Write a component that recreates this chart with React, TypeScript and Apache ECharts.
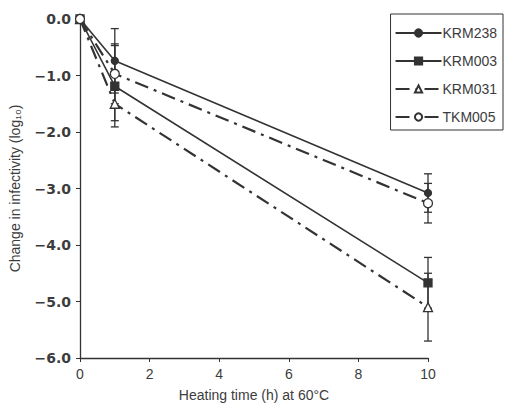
import React, { useEffect, useRef } from "react";
import * as echarts from "echarts";

const hours = [0, 1, 10];
const seriesNames = ["KRM238", "KRM003", "KRM031", "TKM005"];
const krm238 = [0, -0.74, -3.08];
const krm003 = [0, -1.19, -4.67];
const krm031 = [0, -1.5, -5.1];
const tkm005 = [0, -0.97, -3.26];
const krm238Err = [0, 0.57, 0.34];
const krm003Err = [0, 0.72, 0.45];
const krm031Err = [0, 0.3, 0.6];
const tkm005Err = [0, 0.53, 0.35];
const xTicks = [0, 2, 4, 6, 8, 10];
const yTicks = [0, -1, -2, -3, -4, -5, -6];

const INK = "#333333";
const TXT = "#3c3c3c";

export default function App() {
  const ref = useRef<HTMLDivElement>(null);
  useEffect(() => {
    if (!ref.current) return;
    const chart = echarts.init(ref.current, undefined, { renderer: "svg" });
    const values = [krm238, krm003, krm031, tkm005];
    const errs = [krm238Err, krm003Err, krm031Err, tkm005Err];
    const symbols = ["circle", "rect", "triangle", "circle"];
    const filled = [true, true, false, false];
    const dashed = [false, false, true, true];
    const symSize = [7, 8, 9, 9];

    const errData: number[][] = [];
    values.forEach((vals, s) => {
      vals.forEach((v, i) => {
        if (errs[s][i] > 0) errData.push([hours[i], v - errs[s][i], v + errs[s][i]]);
      });
    });

    const lineSeries = values.map((vals, s) => ({
      name: seriesNames[s],
      type: "line",
      data: vals.map((v, i) => [hours[i], v]),
      symbol: symbols[s],
      symbolSize: symSize[s],
      showAllSymbol: true,
      z: 3 + s,
      lineStyle: {
        color: INK,
        width: dashed[s] ? 2.2 : 1.6,
        type: dashed[s] ? [14, 6, 3, 6] : "solid",
      },
      itemStyle: {
        color: filled[s] ? INK : "#fff",
        borderColor: INK,
        borderWidth: 1.3,
      },
    }));

    const errSeries = {
      type: "custom",
      silent: true,
      z: 2,
      data: errData,
      renderItem: (params: any, api: any) => {
        const x = api.value(0);
        const lo = api.coord([x, api.value(1)]);
        const hi = api.coord([x, api.value(2)]);
        const w = 4;
        const st = { stroke: INK, lineWidth: 1.3 };
        return {
          type: "group",
          children: [
            { type: "line", shape: { x1: lo[0], y1: lo[1], x2: hi[0], y2: hi[1] }, style: st },
            { type: "line", shape: { x1: lo[0] - w, y1: lo[1], x2: lo[0] + w, y2: lo[1] }, style: st },
            { type: "line", shape: { x1: hi[0] - w, y1: hi[1], x2: hi[0] + w, y2: hi[1] }, style: st },
          ],
        };
      },
    };

    chart.setOption({
      animation: false,
      backgroundColor: "#fff",
      textStyle: { fontFamily: "Liberation Sans, Arial, sans-serif" },
      grid: { left: 80, right: 77, top: 19, bottom: 52, containLabel: false },
      legend: {
        orient: "vertical",
        right: 2,
        top: 14,
        padding: [12, 6, 6, 4],
        itemGap: 14,
        itemWidth: 46,
        itemHeight: 9,
        borderColor: INK,
        borderWidth: 1,
        backgroundColor: "#fff",
        data: seriesNames,
        textStyle: { color: TXT, fontSize: 14, padding: [0, 0, 0, -4] },
      },
      xAxis: {
        type: "value",
        min: 0,
        max: 10,
        interval: 2,
        name: "Heating time (h) at 60°C",
        nameLocation: "middle",
        nameGap: 30,
        nameTextStyle: { color: TXT, fontSize: 14 },
        axisLine: { onZero: false, lineStyle: { color: INK, width: 1.3 } },
        axisTick: { show: true, length: 4, lineStyle: { color: INK } },
        axisLabel: { color: TXT, fontSize: 14, margin: 9, customValues: xTicks },
        splitLine: { show: false },
      },
      yAxis: {
        type: "value",
        min: -6,
        max: 0,
        interval: 1,
        name: "Change in infectivity (log\u2081\u2080)",
        nameLocation: "middle",
        nameGap: 58,
        nameTextStyle: { color: TXT, fontSize: 14 },
        axisLine: { show: true, onZero: false, lineStyle: { color: INK, width: 1.3 } },
        axisTick: { show: true, length: 4, lineStyle: { color: INK } },
        axisLabel: {
          color: TXT,
          fontSize: 14,
          fontWeight: "bold",
          fontFamily: "DejaVu Sans",
          margin: 9,
          customValues: yTicks,
          formatter: (v: number) => (v === 0 ? "0.0" : "\u2212" + Math.abs(v).toFixed(1)),
        },
        splitLine: { show: false },
      },
      series: [errSeries, ...lineSeries],
    });
    return () => chart.dispose();
  }, []);
  return <div ref={ref} style={{ position: "fixed", left: 0, top: 0, width: 505, height: 410 }} />;
}
